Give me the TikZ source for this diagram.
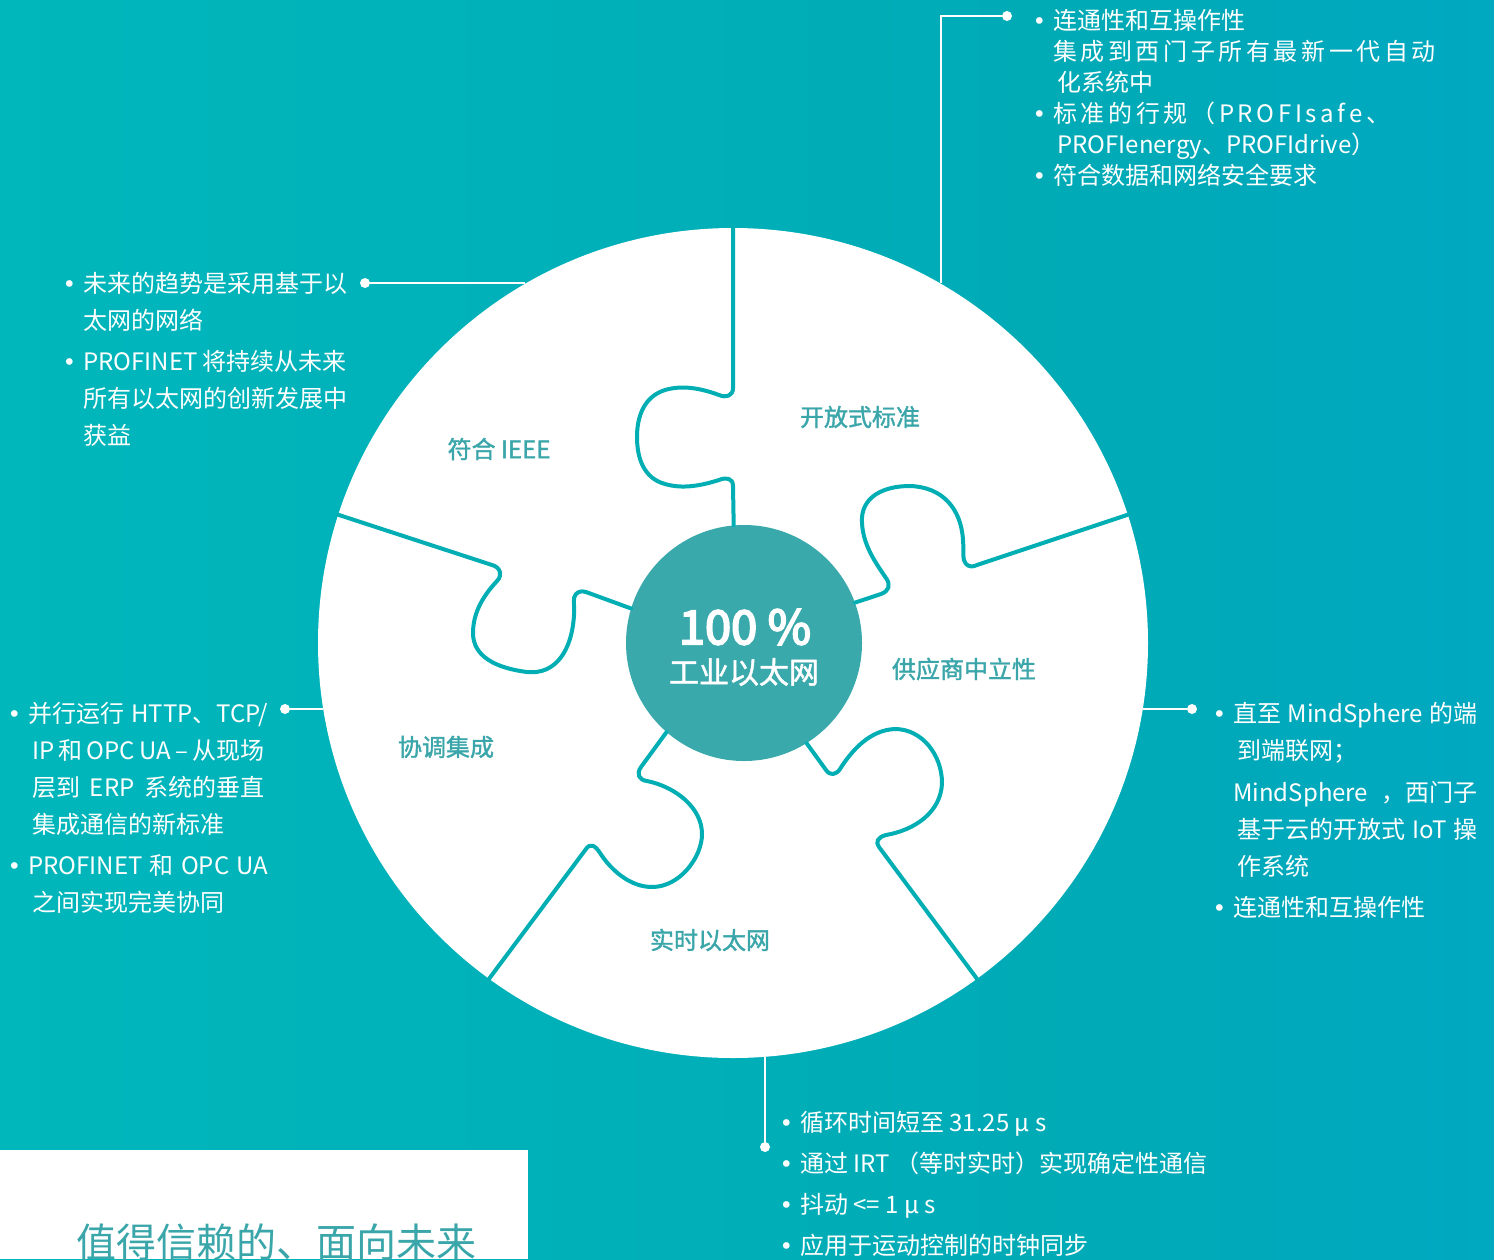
\documentclass[tikz,border=0pt]{standalone}
\usepackage{fontspec}
\setmainfont{Noto Sans CJK SC}
\newfontfamily\dejavu{DejaVu Sans}
\newfontfamily\medfont[FakeBold=1.5]{Noto Sans CJK SC}
\newfontfamily\hubfont[FakeBold=4]{Noto Sans CJK SC}

\definecolor{bgA}{RGB}{56,192,194}
\definecolor{bgB}{RGB}{0,184,188}
\definecolor{bgC}{RGB}{0,170,182}
\definecolor{bgD}{RGB}{0,165,212}
\definecolor{piecec}{RGB}{0,174,180}
\definecolor{hubc}{RGB}{58,169,172}
\definecolor{labelc}{RGB}{58,166,170}

\pgfdeclarehorizontalshading{bgshade}{100bp}{color(0bp)=(bgA); color(22bp)=(bgB); color(62bp)=(bgC); color(100bp)=(bgD)}

\newcommand{\bul}{\makebox[20pt][r]{{\dejavu\fontsize{23}{23}\selectfont •}\hspace{7pt}}}
\newcommand{\ind}{\hspace*{20pt}}
\newcommand{\jl}[2]{\makebox[#1][s]{#2}}

\begin{document}
\begin{tikzpicture}[x=1pt, y=-1pt,
	piece/.style={draw=piecec, line width=4pt, line cap=round, line join=round},
	leader/.style={draw=white, line width=2pt},
	leaderdot/.style={circle, fill=white, inner sep=0pt, minimum size=10pt},
	piecetext/.style={text=labelc, font=\medfont\fontsize{24}{28}\selectfont, inner sep=0pt},
	infotext/.style={text=white, font=\fontsize{24}{37}\selectfont, align=left, inner sep=0pt, anchor=north west}]
	
	% 背景
	\useasboundingbox (0,0) rectangle (1494,1259);
	\clip (0,0) rectangle (1494,1259);
	\fill[shading=bgshade] (0,0) rectangle (1494,1259);
	\fill[white] (0,1150) rectangle (528,1259);
	\node[text=labelc, font=\fontsize{40}{40}\selectfont, anchor=base west, inner sep=0pt] (motto) at (76,1257) {值得信赖的、面向未来};
	
	% 大圆和中心
	\node[circle, fill=white, minimum size=830pt, inner sep=0pt] (disk) at (733,643) {};
	\node[circle, fill=hubc, minimum size=236pt, inner sep=0pt] (hub) at (744,643) {};
	\node[text=white, font=\hubfont\fontsize{47}{47}\selectfont, inner sep=0pt] (pct) at (745,627) {100 \%};
	\node[text=white, font=\medfont\fontsize{30}{30}\selectfont, inner sep=0pt] (hubname) at (744,672) {工业以太网};
	
	% 拼图
	\draw[piece] (disk.north) -- (733,388) .. controls (733,396) and (726,398) .. (719,395) .. controls (700,388) and (682,385) .. (665,390) .. controls (643,397) and (637,418) .. (637,437) .. controls (637,457) and (643,478) .. (665,484) .. controls (682,489) and (700,486) .. (719,480) .. controls (726,477) and (733,478) .. (733,486) -- (hub.95);
	\draw[piece] (hub.20) -- (881,594) .. controls (889,591) and (891,585) .. (886,578) .. controls (872,558) and (861,540) .. (862,517) .. controls (864,496) and (884,486) .. (910,486) .. controls (942,487) and (961,508) .. (963,540) .. controls (964,552) and (962,560) .. (966,564) .. controls (969,567) and (973,567) .. (977,565) -- (disk.18);
	\draw[piece] (hub.-58) -- (826,770) .. controls (830,776) and (836,775) .. (840,769) .. controls (852,750) and (870,730) .. (895,729) .. controls (922,729) and (942,755) .. (942,783) .. controls (941,812) and (915,830) .. (886,835) .. controls (878,837) and (875,842) .. (879,847) -- (disk.-54);
	\draw[piece] (hub.229) -- (641,767) .. controls (636,774) and (639,780) .. (647,781) .. controls (676,787) and (702,808) .. (702,834) .. controls (702,857) and (680,887) .. (652,887) .. controls (630,887) and (611,870) .. (600,853) .. controls (595,845) and (590,843) .. (586,849) -- (disk.234);
	\draw[piece] (disk.162) -- (492,565) .. controls (500,567) and (503,575) .. (497,581) .. controls (481,598) and (473,615) .. (473,633) .. controls (473,656) and (495,668) .. (527,672) .. controls (556,675) and (572,650) .. (574,615) .. controls (575,605) and (572,598) .. (576,594) .. controls (579,591) and (582,591) .. (586,592) -- (hub.163);
	
	\node[piecetext] (ieee) at (499,449) {符合 IEEE};
	\node[piecetext] (open) at (860,417) {开放式标准};
	\node[piecetext] (vendor) at (964,669) {供应商中立性};
	\node[piecetext] (integr) at (446,747) {协调集成};
	\node[piecetext] (rteth) at (710,940) {实时以太网};
	
	% 引线
	\node[leaderdot] (dotTR) at (1007,16) {};
	\node[leaderdot] (dotTL) at (365,283) {};
	\node[leaderdot] (dotL) at (285,709) {};
	\node[leaderdot] (dotR) at (1192,709) {};
	\node[leaderdot] (dotB) at (765,1147) {};
	\draw[leader] (dotTR) -| (disk.60);
	\draw[leader] (dotTL) -- (dotTL -| disk.120);
	\draw[leader] (dotL) -- (dotL -| disk.189);
	\draw[leader] (dotR) -- (dotR -| disk.-9);
	\draw[leader] (dotB) -- (dotB |- disk.-86);
	
	% 说明文字
	\node[infotext, font=\fontsize{24}{31}\selectfont] (infoTR) at (1033,9) {\bul 连通性和互操作性\\
		\ind \jl{345pt}{集 成 到 西 门 子 所 有 最 新 一 代 自 动}\\
		\ind \,化系统中\\
		\bul \jl{337pt}{标 准 的 行 规 （ P R O F I s a f e 、}\\
		\ind \,PROFIenergy、PROFIdrive）\\
		\bul 符合数据和网络安全要求};
	\node[infotext] (infoTL) at (63,272) {\bul 未来的趋势是采用基于以\\
		\ind 太网的网络\\[4pt]
		\bul PROFINET 将持续从未来\\
		\ind 所有以太网的创新发展中\\
		\ind 获益};
	\node[infotext] (infoL) at (8,702) {\bul \jl{240pt}{并行运行 HTTP、TCP/}\\
		\ind \jl{236pt}{\,IP 和 OPC UA – 从现场}\\
		\ind \jl{236pt}{\,层到 ERP 系统的垂直}\\
		\ind \,集成通信的新标准\\[4pt]
		\bul \jl{240pt}{PROFINET 和 OPC UA}\\
		\ind \,之间实现完美协同};
	\node[infotext] (infoR) at (1213,702) {\bul \jl{244pt}{直至 MindSphere 的端}\\
		\ind \,到端联网；\\[5pt]
		\ind \jl{244pt}{MindSphere ，西门子}\\
		\ind \jl{244pt}{\,基于云的开放式 IoT 操}\\
		\ind \,作系统\\[4pt]
		\bul 连通性和互操作性};
	\node[infotext, font=\fontsize{24}{41}\selectfont] (infoB) at (780,1111) {\bul 循环时间短至 31.25 μ s\\
		\bul 通过 IRT （等时实时）实现确定性通信\\
		\bul 抖动 <= 1 μ s\\
		\bul 应用于运动控制的时钟同步};
\end{tikzpicture}
\end{document}
